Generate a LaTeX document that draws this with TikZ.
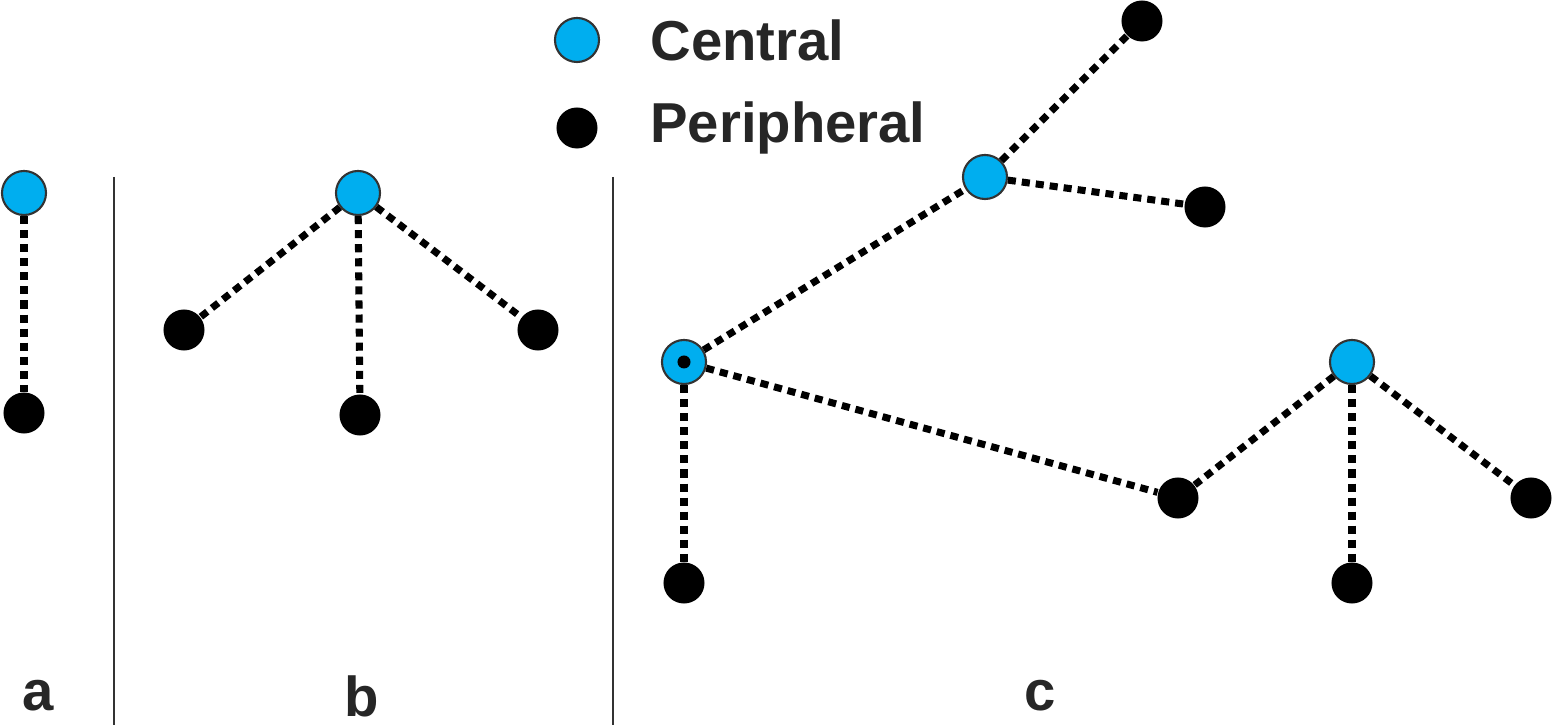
\documentclass[tikz,border=0pt]{standalone}
\usepackage{fontspec}
\setmainfont{Liberation Sans}
\definecolor{cblue}{HTML}{00AEEF}
\begin{document}
\begin{tikzpicture}[x=0.01cm,y=-0.01cm,
  cen/.style={circle,fill=cblue,draw=black!80,line width=0.6pt,minimum size=0.44cm,inner sep=0pt},
  per/.style={circle,fill=black,minimum size=0.41cm,inner sep=0pt},
  link/.style={line width=2pt,dash pattern=on 2.3pt off 1.7pt},
  lbl/.style={font=\bfseries\fontsize{16}{18}\selectfont,text=black!85},
  sep/.style={line width=0.6pt,black!80}]
\useasboundingbox (0,0) rectangle (1553,725);
% legend
\node[cen] (lc) at (577,40) {};
\node[lbl,anchor=west] (lct) at (638,40) {Central};
\node[per] (lp) at (577,128) {};
\node[lbl,anchor=west] (lpt) at (638,128) {Peripheral};
% separators
\draw[sep] (114,177) -- (114,725);
\draw[sep] (613,177) -- (613,725);
% a
\node[cen] (a1) at (24,193) {};
\node[per] (a2) at (24,413) {};
\draw[link] (a1) -- (a2);
% b
\node[cen] (b0) at (358,193) {};
\node[per] (b1) at (184,330) {};
\node[per] (b2) at (360,415) {};
\node[per] (b3) at (538,330) {};
\foreach \p in {b1,b2,b3} \draw[link] (b0) -- (\p);
% c
\node[cen] (c0) at (684,362) {};
\node[per,minimum size=0.13cm] (c0d) at (684,362) {};
\node[per] (c1) at (684,583) {};
\node[cen] (c2) at (985,177) {};
\node[per] (c3) at (1142,21) {};
\node[per] (c4) at (1205,207) {};
\node[per] (c5) at (1178,498) {};
\node[cen] (c6) at (1352,362) {};
\node[per] (c7) at (1352,583) {};
\node[per] (c8) at (1531,498) {};
\draw[link] (c0) -- (c1);
\draw[link] (c0) -- (c2);
\draw[link] (c0) -- (c5);
\draw[link] (c2) -- (c3);
\draw[link] (c2) -- (c4);
\draw[link] (c6) -- (c5);
\draw[link] (c6) -- (c7);
\draw[link] (c6) -- (c8);
% labels
\node[lbl] (la) at (38,696) {a};
\node[lbl] (lb) at (362,696) {b};
\node[lbl] (lcc) at (1040,696) {c};
\end{tikzpicture}
\end{document}
